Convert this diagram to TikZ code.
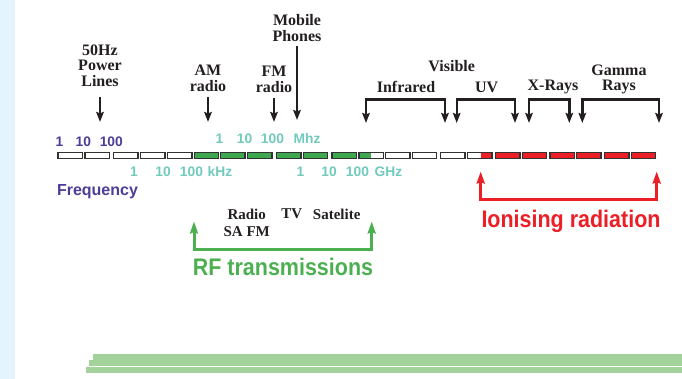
\documentclass[tikz,border=0pt]{standalone}
\usepackage{fontspec}
\setmainfont{Liberation Serif}
\newfontfamily\labelsans{Liberation Sans}
\usetikzlibrary{arrows.meta}

\definecolor{sidebar}{RGB}{229,244,252}
\definecolor{freqpurple}{RGB}{76,62,150}
\definecolor{freqteal}{RGB}{112,202,190}
\definecolor{bandgreen}{RGB}{62,168,78}
\definecolor{bandred}{RGB}{236,30,38}
\definecolor{rfgreen}{RGB}{76,176,80}
\definecolor{inkblack}{RGB}{35,31,32}
\definecolor{footgreen}{RGB}{163,211,154}
\definecolor{segedge}{RGB}{50,50,50}

\tikzset{
  seg/.style={draw=segedge, line width=1.3pt, minimum width=24.3pt, minimum height=6.2pt,
              inner sep=0pt, anchor=west},
  segw/.style={seg, fill=white},
  segg/.style={seg, fill=bandgreen},
  segr/.style={seg, fill=bandred},
  bandlabel/.style={font=\fontsize{16}{15.5}\selectfont\bfseries, text=inkblack,
                    align=center, inner sep=0pt},
  smalllabel/.style={font=\fontsize{15}{17}\selectfont\bfseries, text=inkblack,
                     align=center, inner sep=0pt},
  hzlabel/.style={font=\labelsans\fontsize{13.8}{14}\selectfont\bfseries, inner sep=0pt},
  purplenum/.style={hzlabel, text=freqpurple},
  tealnum/.style={hzlabel, text=freqteal},
  pointer/.style={draw=inkblack, line width=2.4pt,
                  -{Stealth[length=10pt,width=7.5pt,inset=1.5pt]}},
  bracket/.style={draw=inkblack, line width=2.4pt,
                  {Stealth[length=10pt,width=7.5pt,inset=1.5pt]}-{Stealth[length=10pt,width=7.5pt,inset=1.5pt]}},
  rangebracket/.style={line width=3pt,
                  {Stealth[length=12pt,width=8pt,inset=1.5pt]}-{Stealth[length=12pt,width=8pt,inset=1.5pt]}},
  bigtitle/.style={font=\labelsans\fontsize{24}{26}\selectfont\bfseries, inner sep=0pt},
}
% condensed setting for the two range captions
\newcommand{\narrowcaption}[1]{\scalebox{0.895}[1]{#1}}

\begin{document}
\begin{tikzpicture}[x=1pt,y=-1pt]
  \useasboundingbox (0,0) rectangle (682,379);
  % side strip and footer rules
  \fill[sidebar] (0,0) rectangle (15,379);
  \fill[footgreen] (93.3,354) rectangle (682,360.5);
  \fill[footgreen] (89,360) rectangle (682,365.7);
  \fill[footgreen] (86,367.3) rectangle (682,372.7);

  % frequency bar
  \foreach \i/\x in {1/57.3,2/84.3,3/113,4/140,5/167,13/385,14/411.7,15/440}
    \node[segw] (seg\i) at (\x,155.5) {};
  \foreach \i/\x in {6/193.5,7/220,8/247,9/276,10/302.7,11/331.3}
    \node[segg] (seg\i) at (\x,155.5) {};
  \foreach \i/\x in {17/495,18/521.7,19/549.3,20/576,21/604,22/630.7}
    \node[segr] (seg\i) at (\x,155.5) {};
  \node[segw, path picture={\fill[bandgreen] (path picture bounding box.south west)
        rectangle ([xshift=12.4pt]path picture bounding box.north west);}]
        (seg12) at (358.3,155.5) {};
  \node[segw, path picture={\fill[bandred] ([xshift=13pt]path picture bounding box.south west)
        rectangle (path picture bounding box.north east);}]
        (seg16) at (467,155.5) {};

  % scale numbers
  \node[purplenum] (hz1) at (59.5,141.7) {1};
  \node[purplenum] (hz10) at (83.3,141.7) {10};
  \node[purplenum] (hz100) at (111.3,141.7) {100};
  \node[tealnum] (khz1) at (134,172) {1};
  \node[tealnum] (khz10) at (163,172) {10};
  \node[tealnum] (khz100) at (191.5,172) {100};
  \node[tealnum] (khz) at (220,172) {kHz};
  \node[tealnum] (mhz1) at (219.5,138.5) {1};
  \node[tealnum] (mhz10) at (244.5,138.5) {10};
  \node[tealnum] (mhz100) at (272.5,138.5) {100};
  \node[tealnum] (mhz) at (307,138.5) {Mhz};
  \node[tealnum] (ghz1) at (300.5,172) {1};
  \node[tealnum] (ghz10) at (329,172) {10};
  \node[tealnum] (ghz100) at (357.5,172) {100};
  \node[tealnum] (ghz) at (388.5,172) {GHz};
  \node[font=\labelsans\fontsize{16}{18}\selectfont\bfseries, text=freqpurple, inner sep=0pt]
       (freq) at (97.5,191.5) {Frequency};

  % labelled sources pointing at the bar
  \node[bandlabel] (power) at (100,65.5) {50Hz\\Power\\Lines};
  \node[bandlabel] (am) at (208,78.5) {AM\\radio};
  \node[bandlabel] (fm) at (274,79.5) {FM\\radio};
  \node[bandlabel] (mobile) at (297,28) {Mobile\\Phones};
  \coordinate (powertip) at (100,122);
  \coordinate (amtip) at (208,122);
  \coordinate (fmtip) at (274,122);
  \coordinate (mobiletip) at (297,120);
  \draw[pointer] (power.south |- 0,97) -- (powertip);
  \draw[pointer] (am.south |- 0,97) -- (amtip);
  \draw[pointer] (fm.south |- 0,98) -- (fmtip);
  \draw[pointer] (mobile.south |- 0,46) -- (mobiletip);

  % spectrum regions
  \node[bandlabel] (visible) at (451.7,66) {Visible};
  \node[bandlabel] (infrared) at (406,87) {Infrared};
  \node[bandlabel] (uv) at (486.7,87) {UV};
  \node[bandlabel] (xrays) at (553,87) {X-Rays};
  \node[bandlabel] (gamma) at (619,79.5) {Gamma\\Rays};
  \draw[bracket] (366,123) -- (366,99.5) -- (445,99.5) -- (445,123);
  \draw[bracket] (456.7,123) -- (456.7,99.5) -- (515,99.5) -- (515,123);
  \draw[bracket] (529,123) -- (529,99.5) -- (569.3,99.5) -- (569.3,123);
  \draw[bracket] (582.3,123) -- (582.3,99.5) -- (659,99.5) -- (659,123);

  % RF transmissions range
  \node[smalllabel] (radio) at (246.7,214) {Radio};
  \node[smalllabel] (tv) at (291.7,214) {TV};
  \node[smalllabel] (sat) at (336.7,214) {Satelite};
  \node[smalllabel] (safm) at (246.7,231.7) {SA FM};
  \coordinate (rfleft) at (194,221.5);
  \coordinate (rfright) at (371.7,221.5);
  \draw[rangebracket, draw=rfgreen]
       (rfleft) -- (rfleft |- 0,250) -- (rfright |- 0,250) -- (rfright);
  \node[bigtitle, text=rfgreen] (rf) at (283,267.3) {\narrowcaption{RF transmissions}};

  % ionising radiation range
  \coordinate (ionleft) at (480.7,171.5);
  \coordinate (ionright) at (656.7,171.5);
  \draw[rangebracket, draw=bandred]
       (ionleft) -- (ionleft |- 0,199.3) -- (ionright |- 0,199.3) -- (ionright);
  \node[bigtitle, text=bandred] (ion) at (571,221.7) {\narrowcaption{Ionising radiation}};
\end{tikzpicture}
\end{document}
